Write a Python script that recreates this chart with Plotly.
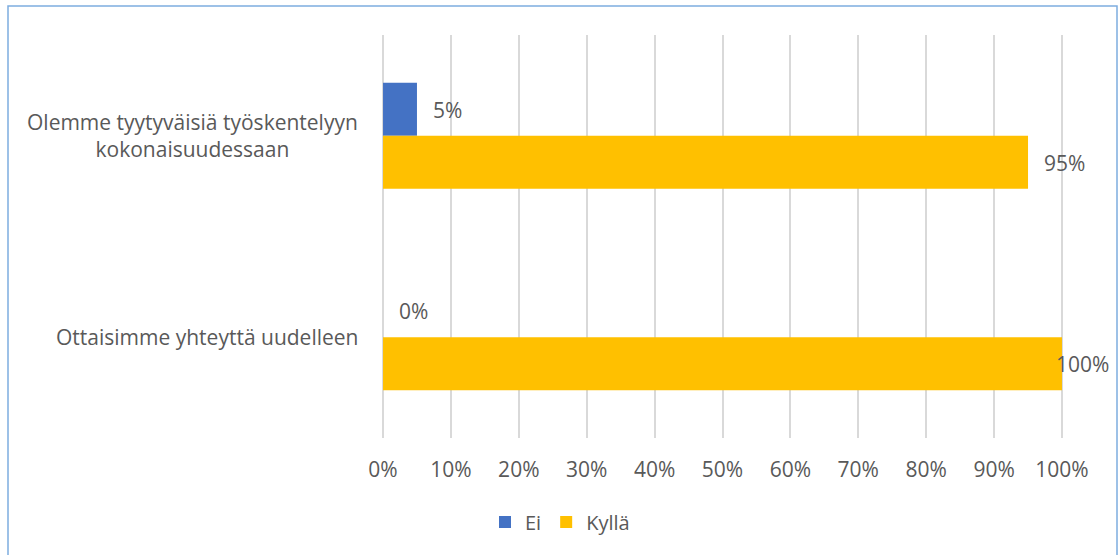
import plotly.graph_objects as go

categories = ["Olemme tyytyväisiä työskentelyyn<br>kokonaisuudessaan",
              "Ottaisimme yhteyttä uudelleen"]
series_names = ["Ei", "Kyllä"]
ei_values = [0.05, 0.00]
kylla_values = [0.95, 1.00]
tick_values = [i / 10 for i in range(11)]
tick_labels = [f"{i * 10}%" for i in range(11)]

colors = {"Ei": "#4472C4", "Kyllä": "#FFC000"}
text_color = "#595959"
font_family = "Open Sans, sans-serif"
font_size = 21

W, H = 1120, 555
L, R, T, B = 382, 57, 35, 117
PW, PH = W - L - R, H - T - B

fig = go.Figure()
for name, vals in zip(series_names, [ei_values, kylla_values]):
    fig.add_trace(go.Bar(
        name=name, y=categories, x=vals, orientation="h",
        marker=dict(color=colors[name], line=dict(width=0)),
    ))

# value labels beside each bar
annotations = []
for si, vals in enumerate([ei_values, kylla_values]):
    yshift = 26 if si == 0 else -27
    for cat, v in zip(categories, vals):
        label = f"{round(v * 100)}%"
        if v >= 0.99:
            annotations.append(dict(x=v, y=cat, text=label, showarrow=False,
                                    xanchor="right", xshift=49, yshift=yshift))
        else:
            annotations.append(dict(x=v, y=cat, text=label, showarrow=False,
                                    xanchor="left", xshift=14, yshift=yshift))

# category labels, centred line by line
for cat in categories:
    annotations.append(dict(x=0, xref="paper", y=cat, text=cat, showarrow=False,
                            xanchor="right", xshift=-22, align="center"))

for a in annotations:
    a["font"] = dict(family=font_family, size=font_size, color=text_color)

fig.update_layout(
    width=W, height=H,
    margin=dict(l=L, r=R, t=T, b=B),
    paper_bgcolor="white", plot_bgcolor="white",
    barmode="group", bargap=0.474, bargroupgap=0,
    font=dict(family=font_family, size=font_size, color=text_color),
    xaxis=dict(range=[-0.0015, 1.0015], tickvals=tick_values, ticktext=tick_labels,
               showgrid=True, gridcolor="#D9D9D9", gridwidth=1.5,
               zeroline=False, showline=False, ticks="",
               ticklabelstandoff=17, fixedrange=True),
    yaxis=dict(autorange="reversed", showticklabels=False, showgrid=False,
               zeroline=False, showline=False, ticks="", fixedrange=True),
    legend=dict(orientation="h", xref="container", yref="container",
                x=0.5, xanchor="center", y=1 - 522 / H, yanchor="middle",
                traceorder="normal", font=dict(size=20),
                itemwidth=30),
    annotations=annotations,
    shapes=[dict(type="rect", xref="paper", yref="paper",
                 x0=(8 - L) / PW, x1=(1117 - L) / PW,
                 y0=-(H + 5 - T - PH) / PH, y1=1 + (T - 6) / PH,
                 line=dict(color="#7EADE0", width=1.5), layer="below")],
    showlegend=True,
)

fig.write_html("out.html", config={"displayModeBar": False})
